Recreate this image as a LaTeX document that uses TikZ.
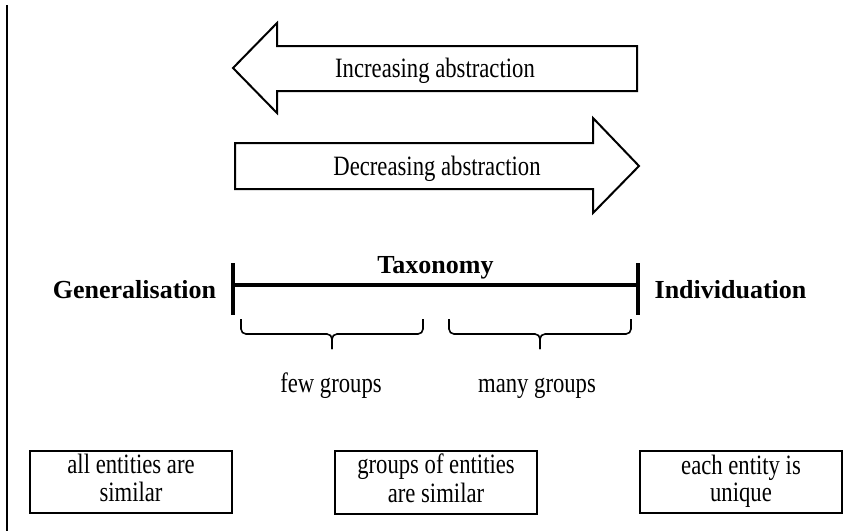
\documentclass[tikz,border=0pt]{standalone}
\usepackage{fontspec}
\setmainfont{Liberation Serif}
\newfontfamily\narrowserif{Liberation Serif}[FakeStretch=0.81]
\usepackage{tikz}
\usetikzlibrary{positioning, calc}

\begin{document}
\begin{tikzpicture}[x=1pt, y=-1pt,
    plain/.style={font={\narrowserif\fontsize{28}{27}\selectfont}},
    heading/.style={font={\bfseries\fontsize{26}{30}\selectfont}},
    fatarrow/.style={draw, line width=2pt, line join=miter},
    curly/.style={draw, line width=1.6pt, rounded corners=5pt},
    entitybox/.style={draw, line width=2pt, minimum width=202pt, minimum height=62pt,
        align=center, plain}]
    \useasboundingbox (0,0) rectangle (864,531);

    % left rule
    \draw[line width=1.5pt] (7,5) -- (7,531);

    % Abstraction arrows
    \draw[fatarrow] (233,68) -- (277,23) -- (277,46) -- (637,46) -- (637,91) -- (277,91) -- (277,113) -- cycle;
    \node[plain, anchor=base] (incr) at (435,77) {Increasing abstraction};
    \draw[fatarrow] (639,166) -- (593,118) -- (593,143) -- (235,143) -- (235,189) -- (593,189) -- (593,213) -- cycle;
    \node[plain, anchor=base] (decr) at (437,175) {Decreasing abstraction};

    % Taxonomy axis
    \coordinate (left) at (233,285);
    \coordinate (right) at (638,285);
    \draw[line width=4pt] (left) -- (right);
    \draw[line width=3.5pt] ($(left)+(0,-22)$) -- ($(left)+(0,30)$);
    \draw[line width=3.5pt] ($(right)+(0,-22)$) -- ($(right)+(0,30)$);
    \node[heading, anchor=base] (tax) at (435.5,273) {Taxonomy};
    \node[heading, anchor=base] (gen) at (134.5,298) {Generalisation};
    \node[heading, anchor=base] (ind) at (730.5,298) {Individuation};

    % Braces
    \draw[curly] (241,319) -- (241,334) -- (332,334) -- (332,349);
    \draw[curly] (423,319) -- (423,334) -- (332,334) -- (332,349);
    \draw[curly] (449,319) -- (449,334) -- (540,334) -- (540,349);
    \draw[curly] (631,319) -- (631,334) -- (540,334) -- (540,349);
    \node[plain, anchor=base] (few) at (331,392) {few groups};
    \node[plain, anchor=base] (many) at (537,392) {many groups};

    % Boxes
    \node[entitybox] (allsim) at (131,482) {\strut all entities are\\\strut similar};
    \node[entitybox] (groupsim) at (436,482) {\strut groups of entities\\\strut are similar};
    \node[entitybox] (unique) at (741,482) {\strut each entity is\\\strut unique};
\end{tikzpicture}
\end{document}
